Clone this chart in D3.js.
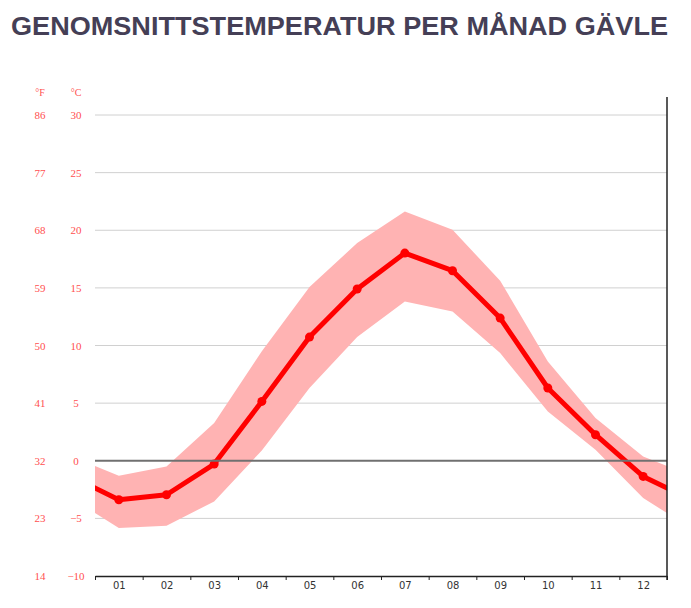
<!DOCTYPE html>
<html><head><meta charset="utf-8">
<script src="https://cdn.jsdelivr.net/npm/d3@7"></script>
<style>body{margin:0;background:#fff}</style>
</head><body>
<svg id="c" width="691" height="608"></svg>
<script>
const months = ["01","02","03","04","05","06","07","08","09","10","11","12"];
const meanTemp = [-3.38,-2.95,-0.29,5.15,10.73,14.9,18.02,16.49,12.38,6.31,2.26,-1.36];
const maxTemp  = [-1.3,-0.49,3.27,9.5,15.07,18.89,21.63,20.04,15.62,8.62,3.7,0.37];
const minTemp  = [-5.84,-5.64,-3.53,0.9,6.31,10.73,13.82,12.95,9.34,4.28,0.95,-3.24];
const celsiusTicks = [-10,-5,0,5,10,15,20,25,30];
const fahrenheitTicks = ["14","23","32","41","50","59","68","77","86"];
const title = "GENOMSNITTSTEMPERATUR PER MÅNAD GÄVLE";

const svg = d3.select("#c");
const L=95, R=667, T=115, B=576;
const x = d3.scaleLinear().domain([0.5,12.5]).range([L,R]);
const y = d3.scaleLinear().domain([-10,30]).range([B,T]);

svg.append("text").attr("x",339.5).attr("y",35).attr("text-anchor","middle")
  .attr("font-family","Liberation Sans, Arial, sans-serif").attr("font-weight","bold")
  .attr("font-size",25).attr("fill","#453f56")
  .attr("textLength",657).attr("lengthAdjust","spacingAndGlyphs").text(title);

// gridlines
svg.append("g").selectAll("line").data(celsiusTicks.filter(d=>d!==-10 && d!==0)).join("line")
  .attr("x1",L).attr("x2",R).attr("y1",d=>y(d)).attr("y2",d=>y(d))
  .attr("stroke","#d0d0d0").attr("stroke-width",1);

// y labels
const lblFont = "Liberation Serif, DejaVu Serif, serif";
const gl = svg.append("g").attr("font-family",lblFont).attr("font-size",11).attr("fill","#ff5050");
gl.selectAll(".c").data(celsiusTicks).join("text").attr("class","c")
  .attr("x",76).attr("y",d=>y(d)+4).attr("text-anchor","middle")
  .text(d=>d<0?"\u2212"+Math.abs(d):d);
gl.selectAll(".f").data(fahrenheitTicks).join("text").attr("class","f")
  .attr("x",40).attr("y",(d,i)=>y(celsiusTicks[i])+4).attr("text-anchor","middle").text(d=>d);
gl.append("text").attr("x",40).attr("y",96).attr("text-anchor","middle").attr("font-size",10).text("°F");
gl.append("text").attr("x",76).attr("y",96).attr("text-anchor","middle").attr("font-size",10).text("°C");

// clip
svg.append("defs").append("clipPath").attr("id","pc").append("rect")
  .attr("x",L).attr("y",T-20).attr("width",R-L).attr("height",B-T+20);

const ext = arr => [arr[11], ...arr, arr[0]];
const idx = d3.range(0,14);
const mean = ext(meanTemp), hi = ext(maxTemp), lo = ext(minTemp);

const g = svg.append("g").attr("clip-path","url(#pc)");
g.append("path").datum(idx)
  .attr("d",d3.area().x(i=>x(i)).y0(i=>y(lo[i])).y1(i=>y(hi[i])))
  .attr("fill","#ffb3b3");

// zero line
svg.append("line").attr("x1",L).attr("x2",R).attr("y1",y(0)).attr("y2",y(0))
  .attr("stroke","#707070").attr("stroke-width",2);

g.append("path").datum(idx)
  .attr("d",d3.line().x(i=>x(i)).y(i=>y(mean[i])))
  .attr("fill","none").attr("stroke","#ff0000").attr("stroke-width",5).attr("stroke-linejoin","round");
g.selectAll("circle").data(meanTemp).join("circle")
  .attr("cx",(d,i)=>x(i+1)).attr("cy",d=>y(d)).attr("r",4.5).attr("fill","#ff0000");

// bottom axis
const bounds = d3.range(0.5,13,1);
const ax = svg.append("g").attr("transform",`translate(0,${B})`)
  .call(d3.axisBottom(x).tickValues(bounds).tickFormat("").tickSize(4).tickSizeOuter(0));
ax.select(".domain").attr("stroke","#222").attr("stroke-width",1.5);
ax.selectAll(".tick line").attr("stroke","#222");
const ax2 = svg.append("g").attr("transform",`translate(0,${B})`)
  .call(d3.axisBottom(x).tickValues(d3.range(1,13)).tickFormat(i=>months[i-1]).tickSize(0).tickPadding(6));
ax2.select(".domain").remove();
ax2.selectAll("text").attr("font-family","DejaVu Sans, sans-serif").attr("font-size",10).attr("fill","#333");

// right axis line
svg.append("line").attr("x1",R).attr("x2",R).attr("y1",97).attr("y2",B+4)
  .attr("stroke","#222").attr("stroke-width",1.5);
</script>
</body></html>
